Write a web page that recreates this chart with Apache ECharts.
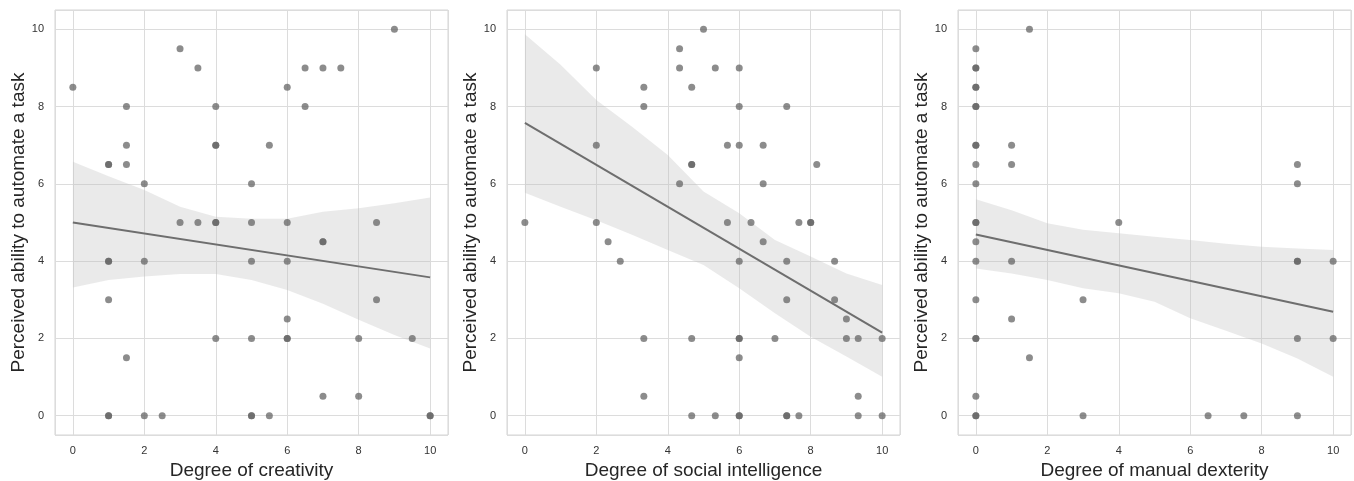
<!DOCTYPE html>
<html>
<head>
<meta charset="utf-8">
<script src="https://cdn.jsdelivr.net/npm/echarts@6/dist/echarts.min.js"></script>
<style>
  html, body { margin: 0; padding: 0; background: #fff; }
  #main { width: 1354px; height: 481px; }
</style>
</head>
<body>
<div id="main"></div>
<script>
// ---- data ----
var yTitle = 'Perceived ability to automate a task';
var xTitles = ['Degree of creativity', 'Degree of social intelligence', 'Degree of manual dexterity'];

// panel 1: creativity
var creativityX = [0, 3, 3.5, 1.5, 4, 1.5, 4, 4, 1, 1, 1.5, 2, 5, 3, 3.5, 4, 4, 5, 1, 1, 2, 5, 1, 4, 5, 1.5, 1, 1, 2, 2.5, 5, 5,
    9, 6.5, 7, 7.5, 6, 6.5, 5.5, 6, 8.5, 7, 7, 6, 8.5, 6, 6, 6, 8, 9.5, 7, 8, 5.5, 10, 10];
var creativityY = [8.5, 9.5, 9, 8, 8, 7, 7, 7, 6.5, 6.5, 6.5, 6, 6, 5, 5, 5, 5, 5, 4, 4, 4, 4, 3, 2, 2, 1.5, 0, 0, 0, 0, 0, 0,
    10, 9, 9, 9, 8.5, 8, 7, 5, 5, 4.5, 4.5, 4, 3, 2.5, 2, 2, 2, 2, 0.5, 0.5, 0, 0, 0];

// panel 2: social intelligence
var socialX = [0, 2, 2, 2, 2.33, 2.67, 3.33, 3.33, 3.33, 3.33, 4.33, 4.33, 4.33, 4.67, 4.67, 4.67, 4.67, 4.67, 5, 5.33,
    6, 6, 7.33, 5.67, 6, 6.67, 8.17, 6.67, 5.67, 6.33, 7.67, 8, 8, 6.67, 6, 7.33, 8.67, 7.33, 8.67, 9,
    6, 6, 7, 9, 9.33, 10, 6, 9.33, 5.33, 6, 6, 7.33, 7.33, 7.67, 9.33, 10];
var socialY = [5, 9, 7, 5, 4.5, 4, 8.5, 8, 2, 0.5, 9.5, 9, 6, 8.5, 6.5, 6.5, 2, 0, 10, 9,
    9, 8, 8, 7, 7, 7, 6.5, 6, 5, 5, 5, 5, 5, 4.5, 4, 4, 4, 3, 3, 2.5,
    2, 2, 2, 2, 2, 2, 1.5, 0.5, 0, 0, 0, 0, 0, 0, 0, 0];

// panel 3: manual dexterity
var manualX = [0, 0, 0, 0, 0, 0, 0, 0, 0, 0, 0, 0, 0, 0, 0, 0, 0, 0, 0, 0, 0,
    1.5, 1, 1, 1, 1, 1.5, 3, 3, 4, 9, 9, 9, 9, 10, 9, 10, 6.5, 7.5, 9];
var manualY = [9.5, 9, 9, 8.5, 8.5, 8, 8, 7, 7, 6.5, 6, 5, 5, 4.5, 4, 3, 2, 2, 0.5, 0, 0,
    10, 7, 6.5, 4, 2.5, 1.5, 3, 0, 5, 6.5, 6, 4, 4, 4, 2, 2, 0, 0, 0];

// fitted lines (value at x=0 and x=10) and confidence bands at x = 0..10
var fitX = [0, 10];
var creativityFit = [5.0, 3.58];
var socialFit = [7.58, 2.15];
var manualFit = [4.69, 2.69];

var bandX = [0, 1, 2, 3, 4, 5, 6, 7, 8, 9, 10];
var creativityUpper = [6.57, 6.2, 5.84, 5.41, 5.15, 5.1, 5.1, 5.28, 5.37, 5.5, 5.65];
var creativityLower = [3.32, 3.51, 3.6, 3.67, 3.67, 3.51, 3.25, 2.9, 2.48, 2.09, 1.74];
var socialUpper = [9.87, 9.08, 8.17, 7.48, 6.75, 5.8, 5.24, 4.55, 4.12, 3.68, 3.38];
var socialLower = [5.77, 5.41, 5.06, 4.68, 4.29, 3.9, 3.3, 2.65, 2.04, 1.53, 1.01];
var manualUpper = [5.6, 5.32, 4.98, 4.81, 4.72, 4.63, 4.55, 4.45, 4.37, 4.33, 4.29];
var manualLower = [3.81, 3.68, 3.51, 3.3, 3.17, 2.95, 2.52, 2.2, 1.87, 1.48, 1.01];

var xTicks = [0, 2, 4, 6, 8, 10];
var yTicks = [0, 2, 4, 6, 8, 10];

// ---- chart ----
var dom = document.getElementById('main');
var myChart = echarts.init(dom, null, { renderer: 'canvas' });

var font = 'Liberation Sans, Arial, sans-serif';
var gridLefts = [55, 507, 958];
var plotW = 393;

function zip(a, b) {
    var out = [];
    for (var i = 0; i < a.length; i++) out.push([a[i], b[i]]);
    return out;
}

function makeAxis(idx, isX) {
    return {
        type: 'value',
        gridIndex: idx,
        min: -0.5,
        max: 10.5,
        splitNumber: 5,
        name: isX ? xTitles[idx] : yTitle,
        nameLocation: 'middle',
        nameGap: isX ? 24 : 26,
        nameTextStyle: { fontFamily: font, fontSize: 19, color: '#262626' },
        axisLine: { show: false },
        axisTick: { show: false },
        axisLabel: {
            fontFamily: font, fontSize: 11, color: '#333', margin: isX ? 10 : 11,
            showMinLabel: false, showMaxLabel: false,
            formatter: function (v) {
                return (isX ? xTicks : yTicks).indexOf(v) >= 0 ? String(v) : '';
            }
        },
        splitLine: { show: true, lineStyle: { color: '#dcdcdc', width: 1 } }
    };
}

var panels = [
    { x: creativityX, y: creativityY, fit: creativityFit, up: creativityUpper, lo: creativityLower },
    { x: socialX, y: socialY, fit: socialFit, up: socialUpper, lo: socialLower },
    { x: manualX, y: manualY, fit: manualFit, up: manualUpper, lo: manualLower }
];

var grids = [], xAxes = [], yAxes = [], series = [];
panels.forEach(function (p, i) {
    grids.push({
        left: gridLefts[i], top: 10, width: plotW, height: 425,
        outerBoundsMode: 'none',
        containLabel: false,
        show: true, borderColor: '#d4d4d4', borderWidth: 1, backgroundColor: '#fff'
    });
    xAxes.push(makeAxis(i, true));
    yAxes.push(makeAxis(i, false));

    var bandRows = [];
    for (var k = 0; k < bandX.length; k++) bandRows.push([bandX[k], p.lo[k], p.up[k]]);

    // confidence band as one polygon
    series.push({
        type: 'custom',
        xAxisIndex: i, yAxisIndex: i,
        silent: true,
        z: 1,
        data: bandRows,
        encode: { x: 0, y: [1, 2] },
        renderItem: function (params, api) {
            if (params.dataIndex !== 0) return null;
            var pts = [], j;
            for (j = 0; j < bandRows.length; j++) pts.push(api.coord([bandRows[j][0], bandRows[j][2]]));
            for (j = bandRows.length - 1; j >= 0; j--) pts.push(api.coord([bandRows[j][0], bandRows[j][1]]));
            return {
                type: 'polygon',
                shape: { points: pts },
                style: { fill: 'rgba(190,190,190,0.33)', stroke: null }
            };
        }
    });

    series.push({
        type: 'scatter',
        xAxisIndex: i, yAxisIndex: i,
        symbolSize: 7,
        z: 2,
        itemStyle: { color: '#666', opacity: 0.75 },
        data: zip(p.x, p.y)
    });

    series.push({
        type: 'line',
        xAxisIndex: i, yAxisIndex: i,
        showSymbol: false,
        z: 3,
        lineStyle: { color: '#6e6e6e', width: 2 },
        data: zip(fitX, p.fit)
    });
});

var option = {
    animation: false,
    backgroundColor: '#fff',
    grid: grids,
    xAxis: xAxes,
    yAxis: yAxes,
    series: series
};

myChart.setOption(option, true);
window.onresize = function () { myChart.resize(); };
</script>
</body>
</html>
